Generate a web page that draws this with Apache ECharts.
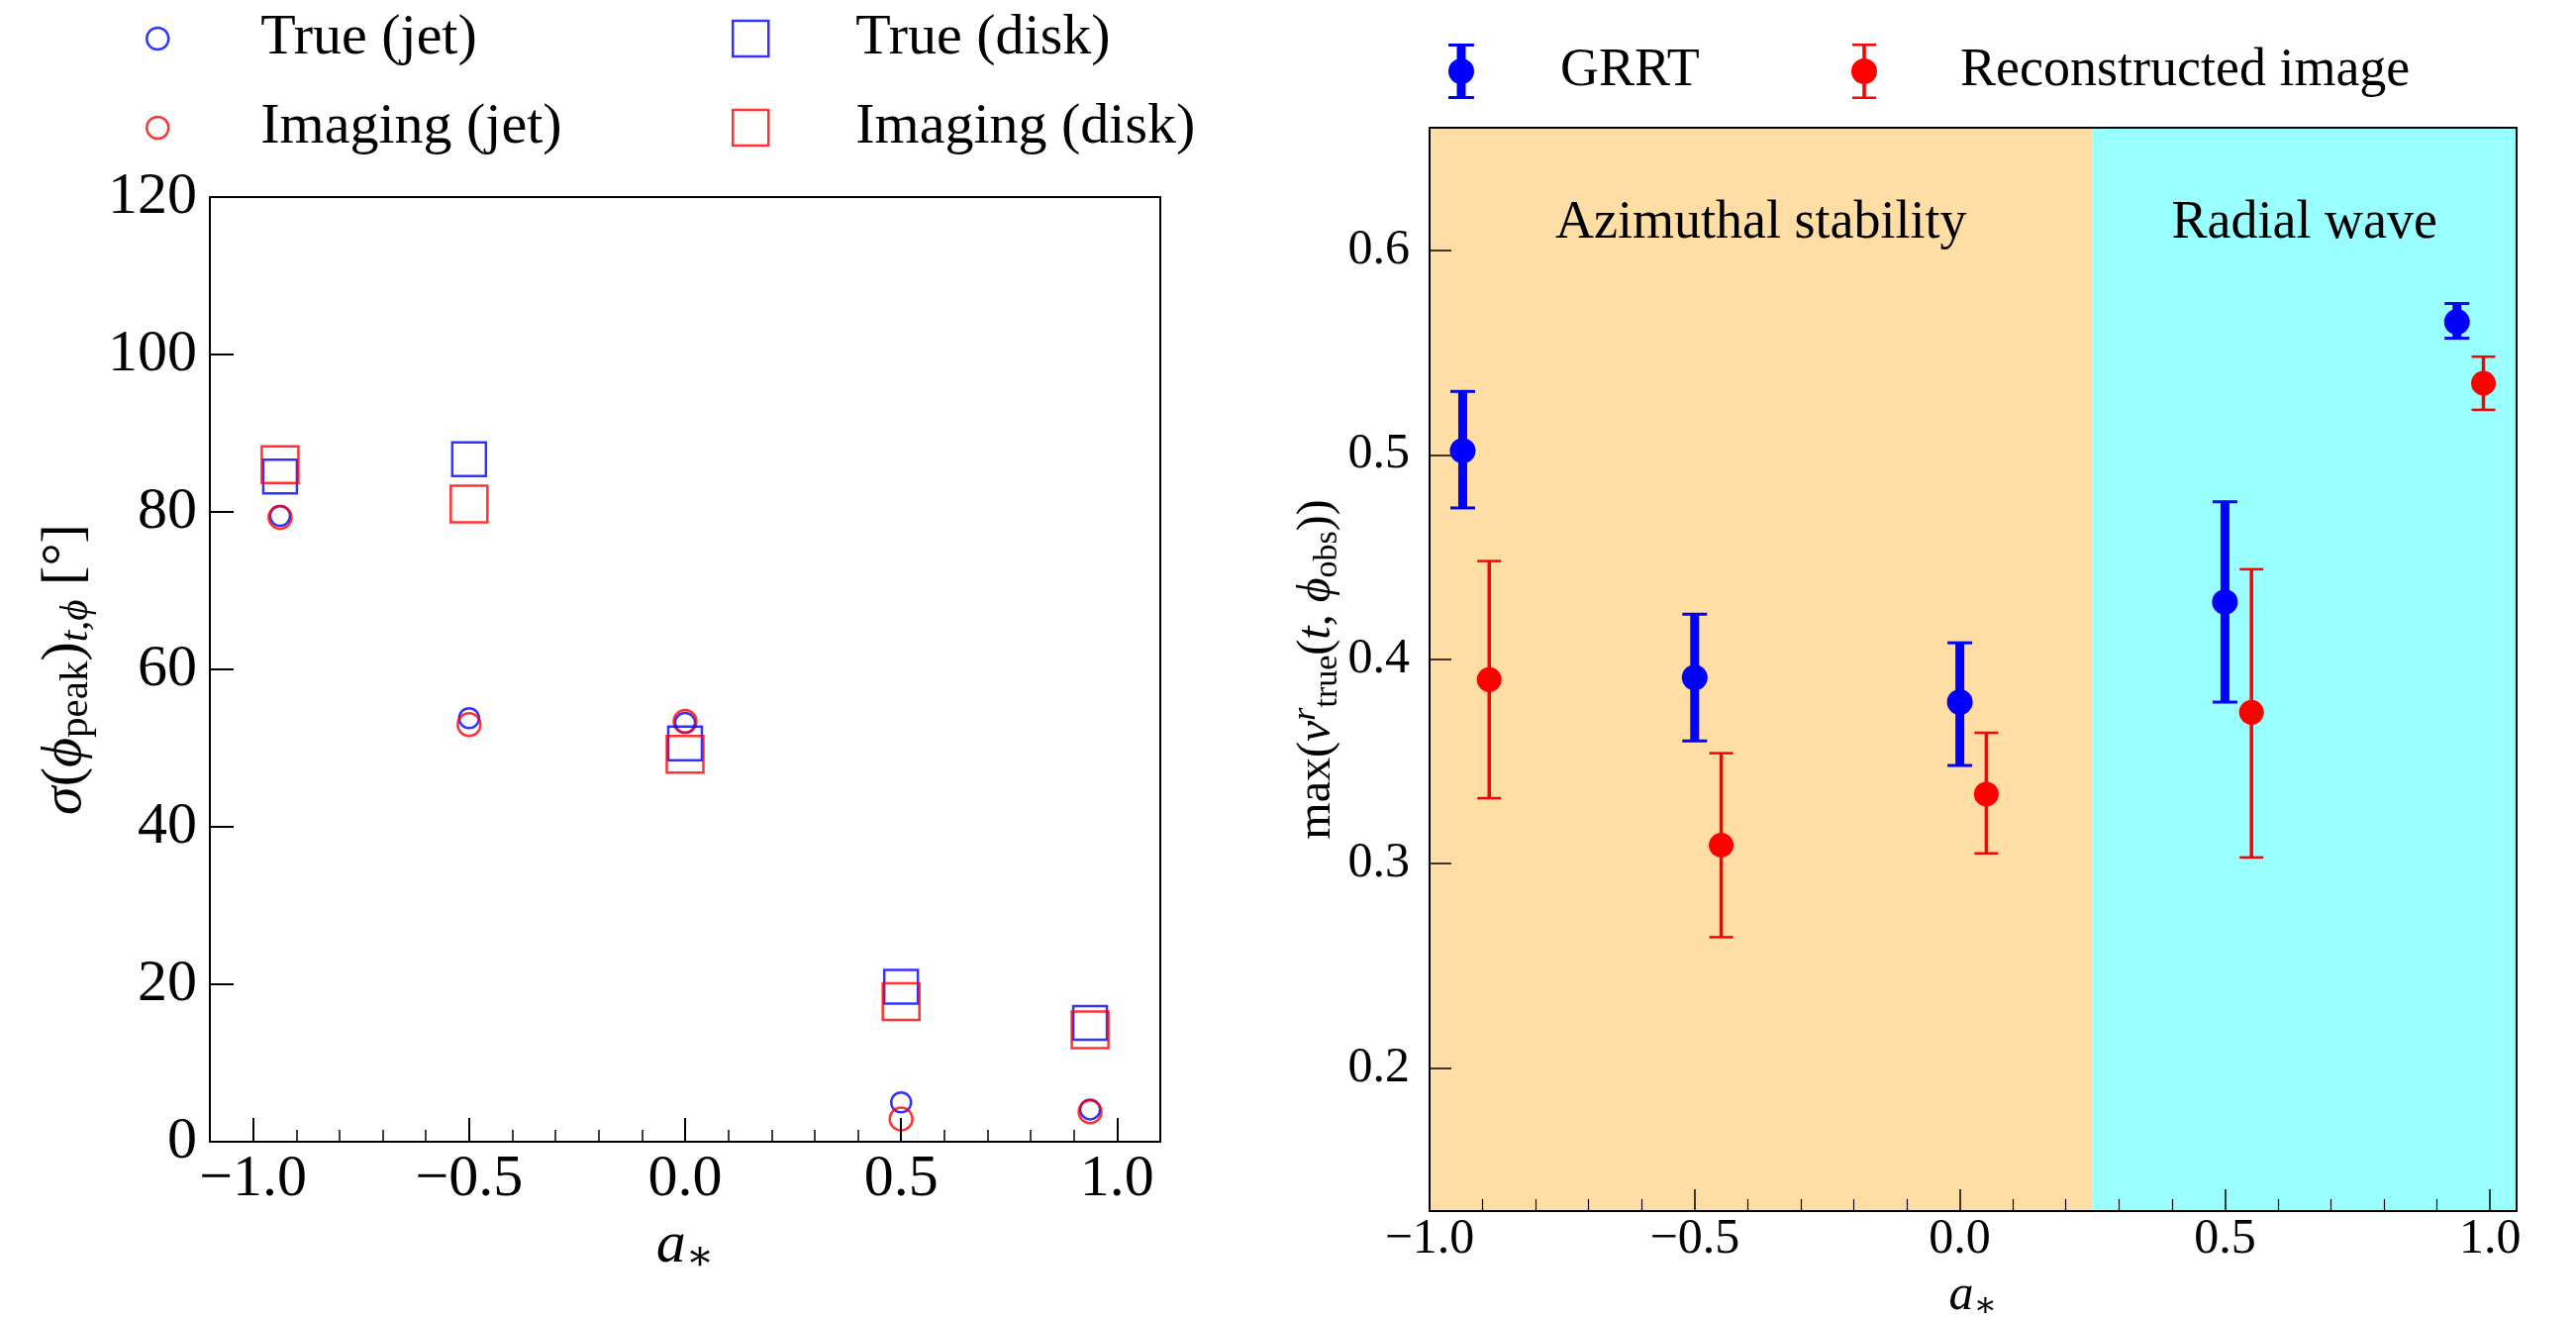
<!DOCTYPE html>
<html>
<head>
<meta charset="utf-8">
<script src="https://cdn.jsdelivr.net/npm/echarts@6/dist/echarts.min.js"></script>
<style>html,body{margin:0;padding:0;background:#fff}#c{width:2602px;height:1331px}</style>
</head>
<body>
<div id="c"></div>
<script>
// ---------- data ----------
const spins = [-0.9375, -0.5, 0, 0.5, 0.9375];
// left panel: sigma(phi_peak) [deg]
const trueJet  = [79.5, 53.8, 53.2, 5.0, 4.1];
const imgJet   = [79.3, 53.0, 53.4, 2.9, 3.8];
const trueDisk = [84.5, 86.7, 50.6, 19.7, 15.1];
const imgDisk  = [86.0, 81.0, 49.2, 17.8, 14.2];
// right panel: max(v^r)
const grrtX  = [-0.9375, -0.5, 0, 0.5, 0.9375];
const grrtY  = [0.502, 0.391, 0.379, 0.428, 0.565];
const grrtLo = [0.474, 0.360, 0.348, 0.379, 0.557];
const grrtHi = [0.531, 0.422, 0.408, 0.477, 0.574];
const reconX  = [-0.8875, -0.45, 0.05, 0.55, 0.9875];
const reconY  = [0.390, 0.309, 0.334, 0.374, 0.535];
const reconLo = [0.332, 0.264, 0.305, 0.303, 0.522];
const reconHi = [0.448, 0.354, 0.364, 0.444, 0.548];
// ticks
const xMajor = [-1.0, -0.5, 0.0, 0.5, 1.0];
const xMinorL = [-0.9,-0.8,-0.7,-0.6,-0.4,-0.3,-0.2,-0.1,0.1,0.2,0.3,0.4,0.6,0.7,0.8,0.9];
const xMinorR = [-0.9,-0.8,-0.7,-0.6,-0.4,-0.3,-0.2,-0.1,0.1,0.2,0.3,0.4,0.6,0.7,0.8,0.9];
const yTicksR = [0.2, 0.3, 0.4, 0.5, 0.6];
// regions
const regions = [
  {name: 'Azimuthal stability', from: -1.0, to: 0.25, color: '#FFDEA6'},
  {name: 'Radial wave', from: 0.25, to: 1.05, color: '#99FFFF'}
];

// ---------- style ----------
const FONT = "'Liberation Serif', 'DejaVu Serif', serif";
const BLUE = '#0000ff', RED = '#ff0000';
const fmtX = v => (v < 0 ? '\u2212' : '') + Math.abs(v).toFixed(1);

function richSet(fs) {
  const sfs = Math.round(fs * 0.7);
  const base = {fontFamily: FONT, color: '#000'};
  return {
    r: Object.assign({fontSize: fs}, base),
    i: Object.assign({fontSize: fs, fontStyle: 'italic'}, base),
    sub: Object.assign({fontSize: sfs, padding: [Math.round(fs*0.42), 0, 0, 0]}, base),
    subi: Object.assign({fontSize: sfs, fontStyle: 'italic', padding: [Math.round(fs*0.42), 0, 0, 0]}, base),
    supi: Object.assign({fontSize: sfs, fontStyle: 'italic', padding: [0, 0, Math.round(fs*0.5), 0]}, base)
  };
}

const chart = echarts.init(document.getElementById('c'), null, {renderer: 'canvas'});

function errRender(lw, capW, capLw, r) {
  return function (params, api) {
    const x = api.value(0), y = api.value(1), lo = api.value(2), hi = api.value(3);
    const p = api.coord([x, y]);
    const pl = api.coord([x, lo]);
    const ph = api.coord([x, hi]);
    const color = api.visual('color');
    return {
      type: 'group',
      children: [
        {type: 'line', shape: {x1: p[0], y1: pl[1], x2: p[0], y2: ph[1]}, style: {stroke: color, lineWidth: lw}},
        {type: 'line', shape: {x1: p[0] - capW / 2, y1: ph[1], x2: p[0] + capW / 2, y2: ph[1]}, style: {stroke: color, lineWidth: capLw}},
        {type: 'line', shape: {x1: p[0] - capW / 2, y1: pl[1], x2: p[0] + capW / 2, y2: pl[1]}, style: {stroke: color, lineWidth: capLw}},
        {type: 'circle', shape: {cx: p[0], cy: p[1], r: r}, style: {fill: color}}
      ]
    };
  };
}

const hollow = (c, w) => ({color: 'rgba(0,0,0,0)', borderColor: c, borderWidth: w});
const SQUARE = 'path://M0,0H10V10H0Z';
const ICON_BLUE = 'path://M0,0H26V3H0Z M8.5,0H17.5V56H8.5Z M0,53H26V56H0Z M0,28A13,13 0 1 1 26,28A13,13 0 1 1 0,28Z';
const ICON_RED = 'path://M1,0H25V2.5H1Z M11.2,0H14.8V56H11.2Z M1,53.5H25V56H1Z M0,28A13,13 0 1 1 26,28A13,13 0 1 1 0,28Z';

const legL = {fontSize: 58, fontFamily: FONT, color: '#000', lineHeight: 60};
const legR = {fontSize: 54, fontFamily: FONT, color: '#000', lineHeight: 56};
function legend(item, left, top, w, h, ts) {
  return {data: [item], left: left, top: top, itemWidth: w, itemHeight: h, padding: 0,
          selectedMode: false, textStyle: ts, symbolKeepAspect: true};
}

const axisLineStyle = {show: true, onZero: false, lineStyle: {color: '#000', width: 2}};
const noLine = {show: false, onZero: false};

const option = {
  animation: false,
  backgroundColor: '#fff',
  grid: [
    {left: 212, top: 199, width: 960, height: 954, containLabel: false, outerBoundsMode: 'none'},
    {left: 1444, top: 129, width: 1098, height: 1094, containLabel: false, outerBoundsMode: 'none'}
  ],
  legend: [
    legend({name: 'True (jet)', icon: 'circle', itemStyle: hollow(BLUE, 2.5)}, 147, 9, 198, 22, legL),
    legend({name: 'True (disk)', icon: SQUARE, itemStyle: hollow(BLUE, 2.5)}, 739, 9, 202, 36, legL),
    legend({name: 'Imaging (jet)', icon: 'circle', itemStyle: hollow(RED, 2.5)}, 147, 99, 198, 22, legL),
    legend({name: 'Imaging (disk)', icon: SQUARE, itemStyle: hollow(RED, 2.5)}, 739, 99, 202, 36, legL),
    legend({name: 'GRRT', icon: ICON_BLUE, itemStyle: {color: BLUE, borderWidth: 0}}, 1463, 44, 190, 56, legR),
    legend({name: 'Reconstructed image', icon: ICON_RED, itemStyle: {color: RED, borderWidth: 0}}, 1870, 44, 184, 56, legR)
  ],
  xAxis: [
    // left grid
    {gridIndex: 0, type: 'value', min: -1.1, max: 1.1, position: 'bottom', z: 5,
     axisLine: axisLineStyle, splitLine: {show: false},
     axisTick: {show: true, inside: true, length: 24, customValues: xMajor, lineStyle: {color: '#000', width: 2}},
     axisLabel: {show: true, customValues: xMajor, formatter: fmtX, fontSize: 60, fontFamily: FONT, color: '#000', margin: 8},
     name: '{i|a}{sub|∗}', nameLocation: 'middle', nameGap: 72,
     nameTextStyle: {rich: richSet(60)}},
    {gridIndex: 0, type: 'value', min: -1.1, max: 1.1, position: 'bottom', z: 5,
     axisLine: noLine, splitLine: {show: false}, axisLabel: {show: false},
     axisTick: {show: true, inside: true, length: 12, customValues: xMinorL, lineStyle: {color: '#000', width: 1.5}}},
    {gridIndex: 0, type: 'value', min: -1.1, max: 1.1, position: 'top', z: 5,
     axisLine: axisLineStyle, splitLine: {show: false}, axisLabel: {show: false}, axisTick: {show: false}},
    // right grid
    {gridIndex: 1, type: 'value', min: -1.0, max: 1.05, position: 'bottom', z: 5,
     axisLine: axisLineStyle, splitLine: {show: false},
     axisTick: {show: true, inside: true, length: 22, customValues: xMajor, lineStyle: {color: '#000', width: 1.5}},
     axisLabel: {show: true, customValues: xMajor, formatter: fmtX, fontSize: 50, fontFamily: FONT, color: '#000', margin: 4},
     name: '{i|a}{sub|∗}', nameLocation: 'middle', nameGap: 58,
     nameTextStyle: {rich: richSet(50)}},
    {gridIndex: 1, type: 'value', min: -1.0, max: 1.05, position: 'bottom', z: 5,
     axisLine: noLine, splitLine: {show: false}, axisLabel: {show: false},
     axisTick: {show: true, inside: true, length: 12, customValues: xMinorR, lineStyle: {color: '#000', width: 1.2}}},
    {gridIndex: 1, type: 'value', min: -1.0, max: 1.05, position: 'top', z: 5,
     axisLine: axisLineStyle, splitLine: {show: false}, axisLabel: {show: false}, axisTick: {show: false}}
  ],
  yAxis: [
    {gridIndex: 0, type: 'value', min: 0, max: 120, interval: 20, position: 'left', z: 5,
     axisLine: axisLineStyle, splitLine: {show: false},
     axisTick: {show: true, inside: true, length: 24, lineStyle: {color: '#000', width: 2}},
     axisLabel: {show: true, fontSize: 60, fontFamily: FONT, color: '#000', margin: 13},
     name: '{i|σ}{r|(}{i|ϕ}{sub|peak}{r|)}{subi|t,ϕ}{r| [°]}', nameLocation: 'middle', nameRotate: 90, nameGap: 114,
     nameTextStyle: {rich: richSet(58)}},
    {gridIndex: 0, type: 'value', min: 0, max: 120, position: 'right', z: 5,
     axisLine: axisLineStyle, splitLine: {show: false}, axisLabel: {show: false}, axisTick: {show: false}},
    {gridIndex: 1, type: 'value', min: 0.13, max: 0.66, position: 'left', z: 5,
     axisLine: axisLineStyle, splitLine: {show: false},
     axisTick: {show: true, inside: true, length: 22, customValues: yTicksR, lineStyle: {color: '#000', width: 1.5}},
     axisLabel: {show: true, customValues: yTicksR, formatter: v => v.toFixed(1), fontSize: 50, fontFamily: FONT, color: '#000', margin: 20},
     name: '{r|max(}{i|v}{supi|r}{sub|true}{r|(}{i|t}{r|, }{i|ϕ}{sub|obs}{r|))}', nameLocation: 'middle', nameRotate: 90, nameGap: 72,
     nameTextStyle: {rich: richSet(48)}},
    {gridIndex: 1, type: 'value', min: 0.13, max: 0.66, position: 'right', z: 5,
     axisLine: axisLineStyle, splitLine: {show: false}, axisLabel: {show: false}, axisTick: {show: false}}
  ],
  series: [
    {name: 'True (jet)', type: 'scatter', xAxisIndex: 0, yAxisIndex: 0, symbol: 'circle', symbolSize: 20,
     itemStyle: hollow(BLUE, 2.5), data: spins.map((x, k) => [x, trueJet[k]])},
    {name: 'Imaging (jet)', type: 'scatter', xAxisIndex: 0, yAxisIndex: 0, symbol: 'circle', symbolSize: 23,
     itemStyle: hollow(RED, 2.5), data: spins.map((x, k) => [x, imgJet[k]])},
    {name: 'True (disk)', type: 'scatter', xAxisIndex: 0, yAxisIndex: 0, symbol: 'rect', symbolSize: 34,
     itemStyle: hollow(BLUE, 2.5), data: spins.map((x, k) => [x, trueDisk[k]])},
    {name: 'Imaging (disk)', type: 'scatter', xAxisIndex: 0, yAxisIndex: 0, symbol: 'rect', symbolSize: 37,
     itemStyle: hollow(RED, 2.5), data: spins.map((x, k) => [x, imgDisk[k]])},
    {name: 'GRRT', type: 'custom', xAxisIndex: 3, yAxisIndex: 2, itemStyle: {color: BLUE},
     renderItem: errRender(9, 25, 3, 13), encode: {x: 0, y: [1, 2, 3]},
     data: grrtX.map((x, k) => [x, grrtY[k], grrtLo[k], grrtHi[k]]),
     markArea: {silent: true,
       label: {show: true, position: 'insideTop', distance: 67, fontSize: 54, lineHeight: 60, fontFamily: FONT, color: '#000'},
       data: regions.map(r => [{name: r.name, xAxis: r.from, itemStyle: {color: r.color, opacity: 1}}, {xAxis: r.to}])}},
    {name: 'Reconstructed image', type: 'custom', xAxisIndex: 3, yAxisIndex: 2, itemStyle: {color: RED},
     renderItem: errRender(3.5, 24, 2.5, 12.5), encode: {x: 0, y: [1, 2, 3]},
     data: reconX.map((x, k) => [x, reconY[k], reconLo[k], reconHi[k]])}
  ]
};
chart.setOption(option);
</script>
</body>
</html>
